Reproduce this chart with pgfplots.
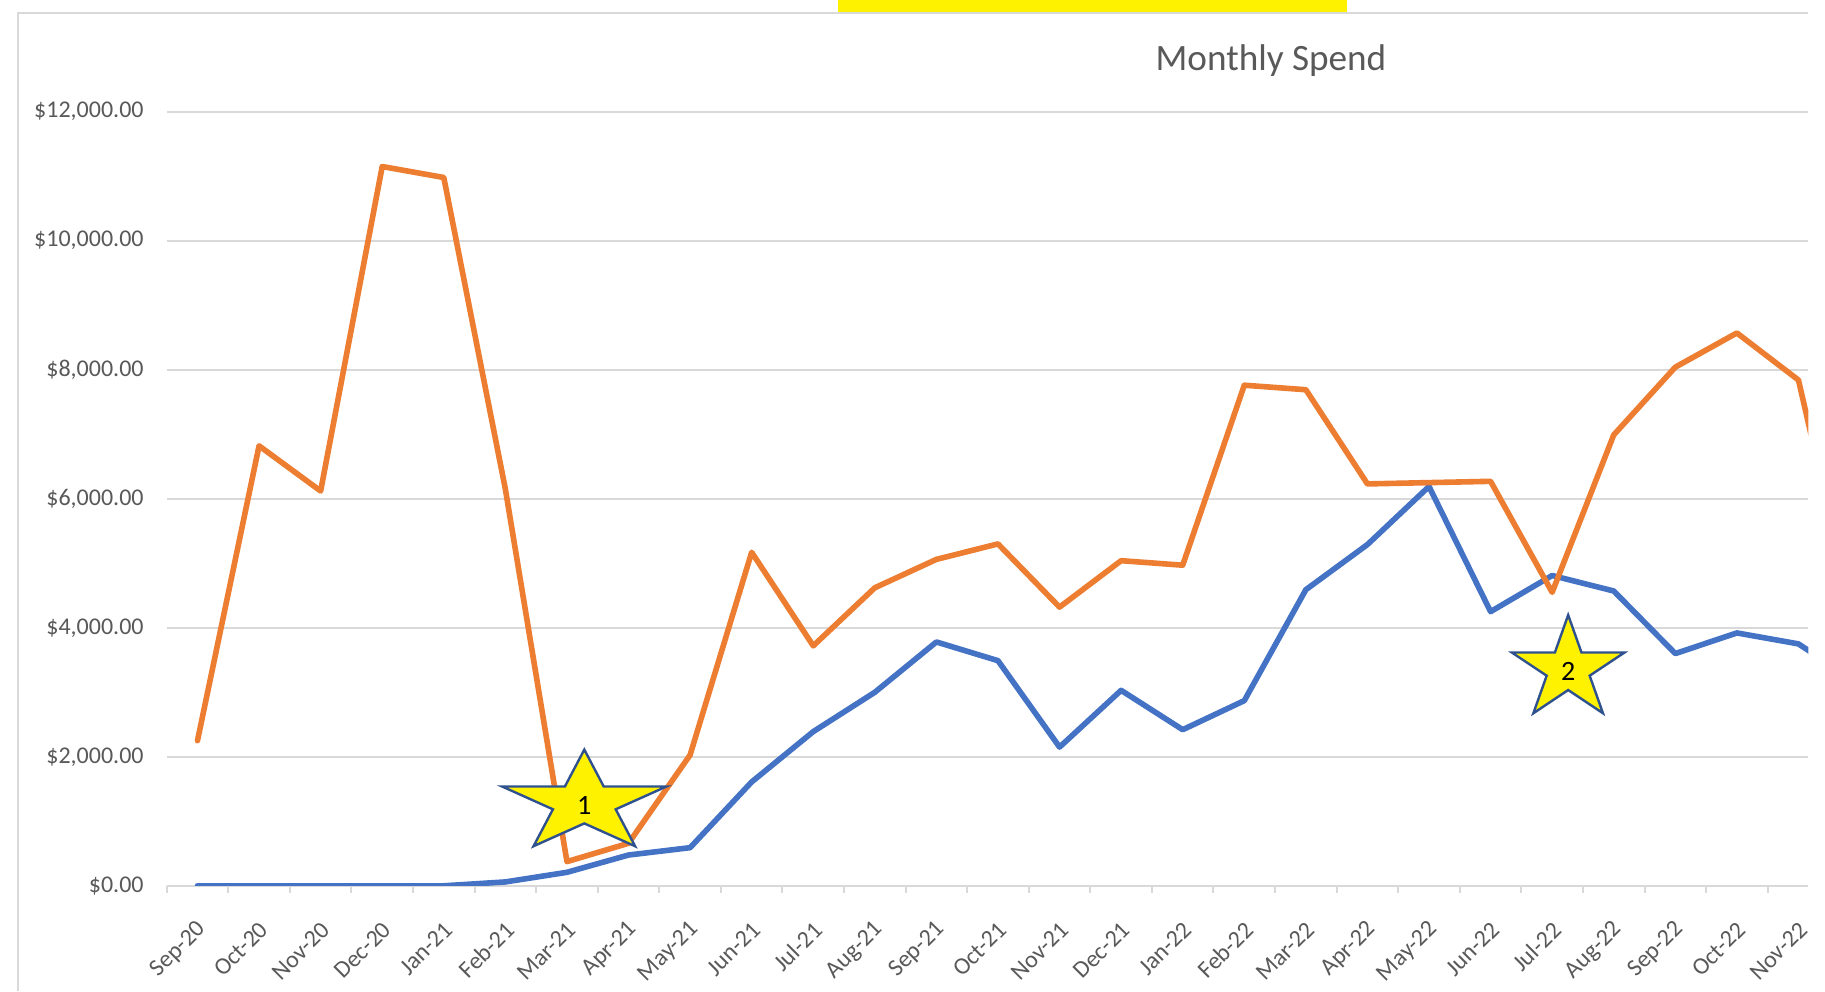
\documentclass[border=0pt]{standalone}
\usepackage{fontspec}
\setmainfont{Carlito}
\usepackage{pgfplots}
\usepackage{pgfplotstable}
\pgfplotsset{compat=1.18}
\definecolor{sblue}{HTML}{4472C4}
\definecolor{sorange}{HTML}{ED7D31}
\definecolor{txtgray}{HTML}{595959}
\definecolor{gridgray}{HTML}{D9D9D9}
\definecolor{staredge}{HTML}{2F528F}

\pgfplotstableread{
x blue orange
0 0 2250
1 0 6820
2 0 6120
3 0 11150
4 0 10980
5 60 6150
6 209 375
7 477 659
8 591 2028
9 1610 5170
10 2390 3720
11 3000 4620
12 3780 5060
13 3490 5300
14 2150 4320
15 3030 5040
16 2420 4970
17 2870 7760
18 4590 7690
19 5290 6230
20 6190 6250
21 4250 6270
22 4810 4550
23 4570 6990
24 3600 8040
25 3920 8570
26 3750 7840
27 3120 3700
}\spend

\begin{document}
\begin{tikzpicture}
\path[use as bounding box] (0,0) rectangle (912.5pt,495.5pt);
\fill[white] (0,0) rectangle (912.5pt,495.5pt);
\draw[gridgray, line width=1pt] (9pt,0) -- (9pt,489pt) -- (904pt,489pt);
\fill[yellow] (419pt,489.5pt) rectangle (673.5pt,495.5pt);
\node[anchor=base, text=txtgray, font=\fontsize{18.6}{22}\selectfont, inner sep=0pt] at (635.5pt,460.15pt) {Monthly Spend};
\begin{axis}[
  at={(83.35pt,52.6pt)}, anchor=south west,
  scale only axis, width=820.8pt, height=387.05pt,
  xmin=-0.5, xmax=26.16, ymin=0, ymax=12000,
  axis x line*=bottom, axis y line*=left,
  axis line style={-},
  x axis line style={gridgray, line width=1pt},
  y axis line style={draw=none},
  tick align=outside, major tick length=3.5pt,
  scaled y ticks=false,
  xtick={0,...,26},
  xticklabels={Sep-20,Oct-20,Nov-20,Dec-20,Jan-21,Feb-21,Mar-21,Apr-21,May-21,Jun-21,Jul-21,Aug-21,Sep-21,Oct-21,Nov-21,Dec-21,Jan-22,Feb-22,Mar-22,Apr-22,May-22,Jun-22,Jul-22,Aug-22,Sep-22,Oct-22,Nov-22},
  xtick style={draw=none},
  extra x ticks={-0.5,0.5,...,25.5},
  extra x tick labels={},
  extra x tick style={xtick style={draw=gridgray, line width=1pt}, grid=none},
  ytick={0,2000,...,12000},
  yticklabels={\$0.00,{\$2,000.00},{\$4,000.00},{\$6,000.00},{\$8,000.00},{\$10,000.00},{\$12,000.00}},
  ytick style={draw=none},
  ymajorgrids, major grid style={gridgray, line width=1pt},
  tick label style={text=txtgray, font=\fontsize{12}{14}\selectfont},
  xticklabel style={xshift=2.5pt, yshift=-16.5pt, rotate=45, anchor=east, inner sep=0pt},
  yticklabel style={anchor=east, inner sep=0pt, xshift=-7.85pt},
  clip=true,
]
\addplot[sblue, line width=2.8pt, line join=round, line cap=round] table[x=x, y=blue] {\spend};
\addplot[sorange, line width=2.8pt, line join=round, line cap=round] table[x=x, y=orange] {\spend};
\coordinate (s1) at (axis cs:6.282,1283.5);
\coordinate (s2) at (axis cs:22.26,3356);
\end{axis}
\draw[fill=yellow, draw=staredge, line width=1.2pt, line join=miter, shift={(s1)}, x=43.2pt, y=26.7pt] (90:1) -- (126:0.382) -- (162:1) -- (198:0.382) -- (234:1) -- (270:0.382) -- (306:1) -- (342:0.382) -- (18:1) -- (54:0.382) -- cycle;
\draw[fill=yellow, draw=staredge, line width=1.2pt, line join=miter, shift={(s2)}, x=29.6pt, y=27.15pt] (90:1) -- (126:0.382) -- (162:1) -- (198:0.382) -- (234:1) -- (270:0.382) -- (306:1) -- (342:0.382) -- (18:1) -- (54:0.382) -- cycle;
\node[font=\fontsize{14}{16}\selectfont, inner sep=0pt] at ([yshift=-1pt]s1) {1};
\node[font=\fontsize{14}{16}\selectfont, inner sep=0pt] at ([yshift=-1pt]s2) {2};
\end{tikzpicture}
\end{document}
